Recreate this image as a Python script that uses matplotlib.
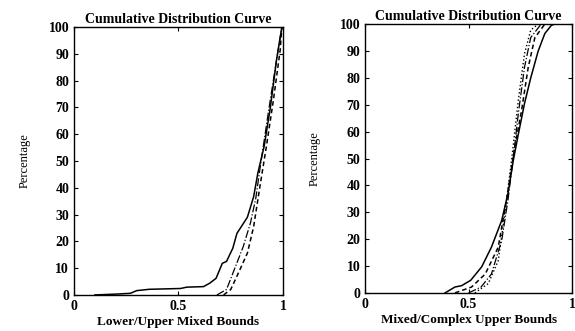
import numpy as np
import matplotlib
matplotlib.use("Agg")
import matplotlib.pyplot as plt

plt.rcParams['font.family'] = ['Liberation Serif', 'DejaVu Serif']

# left panel: Lower/Upper Mixed Bounds
l_solid_x = [0.10, 0.20, 0.27, 0.30, 0.36, 0.51, 0.54, 0.62, 0.65, 0.68, 0.71, 0.73, 0.76, 0.78, 0.83, 0.86, 0.88, 0.91, 0.94, 0.97, 0.995]
l_solid_y = [0.0, 0.3, 0.6, 1.6, 2.1, 2.4, 2.9, 3.1, 4.4, 6.2, 11.8, 12.5, 17.4, 23, 29, 36.7, 45.5, 55.4, 70, 88, 100]
l_dash_x = [0.716, 0.75, 0.78, 0.83, 0.86, 0.89, 0.92, 0.955, 0.987, 0.995]
l_dash_y = [0, 2, 7, 15.6, 25.5, 40.5, 55, 73, 91.5, 100]
l_dashdot_x = [0.684, 0.73, 0.76, 0.81, 0.845, 0.87, 0.89, 0.93, 0.97, 0.995]
l_dashdot_y = [0, 2, 8, 18, 27, 36, 47, 68, 88, 100]

# right panel: Mixed/Complex Upper Bounds
r_solid_x = [0.386, 0.434, 0.466, 0.51, 0.563, 0.61, 0.66, 0.69, 0.715, 0.74, 0.77, 0.80, 0.836, 0.868, 0.90, 0.916]
r_solid_y = [0, 2.2, 2.7, 4.7, 9.7, 17, 27, 37, 49, 59, 70.5, 80, 90, 96.5, 99.6, 100]
r_dash_x = [0.434, 0.514, 0.58, 0.643, 0.683, 0.72, 0.756, 0.788, 0.82, 0.868]
r_dash_y = [0, 2.2, 7, 17, 34.5, 53, 68, 84, 95, 100]
r_dashdot_x = [0.50, 0.56, 0.61, 0.66, 0.69, 0.72, 0.74, 0.77, 0.80, 0.85]
r_dashdot_y = [0, 2.2, 7, 19.6, 34.5, 53, 66.7, 84, 95, 100]
r_dot_x = [0.53, 0.595, 0.643, 0.675, 0.707, 0.74, 0.77, 0.80, 0.836]
r_dot_y = [0, 3.5, 12, 29.5, 49, 71.7, 89, 97.8, 100]

fig = plt.figure(figsize=(5.75, 3.31), dpi=100)
ax1 = fig.add_axes([0.1287, 0.109, 0.3633, 0.809])
ax2 = fig.add_axes([0.635, 0.115, 0.36, 0.812])

ax1.plot(l_solid_x, l_solid_y, 'k-', lw=1.1)
ax1.plot(l_dash_x, l_dash_y, 'k--', lw=1.1, dashes=(3, 2))
ax1.plot(l_dashdot_x, l_dashdot_y, 'k-.', lw=0.9)

ax2.plot(r_solid_x, r_solid_y, 'k-', lw=1.1)
ax2.plot(r_dash_x, r_dash_y, 'k--', lw=1.1, dashes=(3, 2))
ax2.plot(r_dashdot_x, r_dashdot_y, 'k-.', lw=0.9)
ax2.plot(r_dot_x, r_dot_y, 'k:', lw=1.0)

xlabels = ['Lower/Upper Mixed Bounds', 'Mixed/Complex Upper Bounds']
ypads = [13, 14]
for ax, xl, yp in zip([ax1, ax2], xlabels, ypads):
    ax.set_xlim(0, 1)
    ax.set_ylim(0, 100)
    ax.set_xticks([0, 0.5, 1])
    ax.set_xticklabels(['0', '0.5', '1'])
    ax.set_yticks(range(0, 101, 10))
    ax.tick_params(direction='in', top=True, right=True, length=3, width=0.8,
                   labelsize=10)
    for lab in ax.get_xticklabels() + ax.get_yticklabels():
        lab.set_fontweight('bold')
    ax.set_title('Cumulative Distribution Curve', fontsize=10, fontweight='bold', pad=3)
    ax.set_xlabel(xl, fontsize=9.5, fontweight='bold', labelpad=2)
    ax.set_ylabel('Percentage', fontsize=9, labelpad=yp)
    for s in ax.spines.values():
        s.set_linewidth(1.0)

fig.savefig('out.png', dpi=100)
